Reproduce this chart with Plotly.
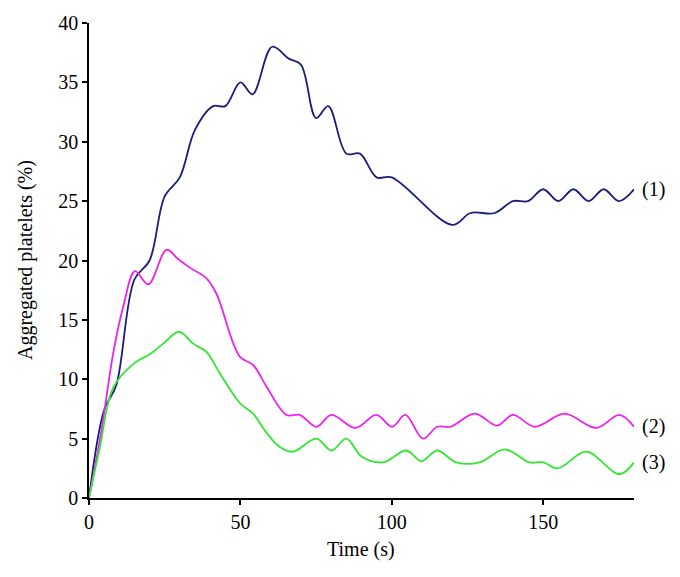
import plotly.graph_objects as go

# Series (1) - navy
t1 = [0, 5, 9, 15, 20, 25, 30, 35, 41, 45, 50, 54, 60.5, 66, 70, 75, 79, 85, 89.5, 95, 100, 120, 126, 134, 140, 145, 150, 155, 160, 165, 170, 175, 180]
y1 = [0, 7.4, 9.5, 18.4, 20, 25.4, 27, 31, 33, 33, 35, 34, 38, 37, 36.5, 32, 33, 29, 29, 27, 27, 23, 24, 24, 25, 25, 26, 25, 26, 25, 26, 25, 26]

# Series (2) - magenta
t2 = [0, 4, 8, 11.3, 15.2, 19.6, 25.6, 29.5, 33.3, 38.8, 42.1, 49.8, 54.2, 58.6, 65.2, 69.6, 75.1, 80.1, 88, 94.9, 100.1, 104.5, 110.3, 115, 119.4, 127.4, 134.8, 140, 147.2, 157.1, 167.5, 175.2, 180]
y2 = [0, 5.5, 12.2, 16.1, 19.1, 18.0, 20.9, 20.1, 19.4, 18.5, 17.2, 11.9, 11.2, 9.4, 7.0, 7.0, 6.0, 7.0, 5.9, 7.0, 6.0, 7.0, 5.0, 6.0, 6.0, 7.1, 6.1, 7.0, 6.0, 7.1, 5.9, 7.0, 6.0]

# Series (3) - green
t3 = [0, 3.6, 8, 15.2, 20.1, 24.5, 29.7, 34.4, 38.8, 43.2, 49.8, 54.2, 58.6, 63, 67.4, 75.1, 80.1, 85, 90, 97.1, 104.8, 109.8, 115, 121.3, 129, 137.3, 145.5, 150, 154.9, 164.2, 175.2, 180]
y3 = [0, 4.3, 9.3, 11.4, 12.1, 13.0, 14.0, 13.0, 12.3, 10.5, 8.0, 7.1, 5.5, 4.3, 3.9, 5.0, 4.0, 5.0, 3.5, 3.0, 4.0, 3.1, 4.0, 3.0, 3.0, 4.1, 3.0, 3.0, 2.5, 3.9, 2.0, 3.0]

labels = ["(1)", "(2)", "(3)"]
colors = ["#1c1c7c", "#ee22ee", "#33e633"]
x_ticks = [0, 50, 100, 150]
y_ticks = [0, 5, 10, 15, 20, 25, 30, 35, 40]
x_title = "Time (s)"
y_title = "Aggregated platelets (%)"

FONT = "Liberation Serif, Times New Roman, serif"

# page body has an 8px margin; target screen plot box: x 89..634, y 23..498
OFF = 8
L, T = 89 - OFF, 23 - OFF
W, H = 680, 577
PW, PH = 634 - 89, 498 - 23
R = W - L - PW
B = H - T - PH


def px_x(sx):
    return (sx - OFF - L) / PW


def px_y(sy):
    return (T + PH - (sy - OFF)) / PH


fig = go.Figure()
for t, y, c in zip([t1, t2, t3], [y1, y2, y3], colors):
    fig.add_trace(go.Scatter(x=t, y=y, mode="lines",
                             line=dict(color=c, width=1.8, shape="spline", smoothing=1.0),
                             showlegend=False, cliponaxis=False))

for lab, t, y in zip(labels, [t1, t2, t3], [y1, y2, y3]):
    fig.add_annotation(x=t[-1], y=y[-1], text=lab, xref="x", yref="y",
                       xanchor="left", yanchor="middle", xshift=6, showarrow=False,
                       font=dict(family=FONT, size=20, color="black"))

# axis titles
fig.add_annotation(x=px_x(361), y=px_y(549), xref="paper", yref="paper",
                   text=x_title, showarrow=False, xanchor="center", yanchor="middle",
                   font=dict(family=FONT, size=20, color="black"))
fig.add_annotation(x=px_x(26), y=px_y(260), xref="paper", yref="paper",
                   text=y_title, showarrow=False, xanchor="center", yanchor="middle", textangle=-90,
                   font=dict(family=FONT, size=20, color="black"))

axis_common = dict(showline=True, linecolor="black", linewidth=1.5, ticks="outside",
                   ticklen=5, tickwidth=1.5, tickcolor="black", showgrid=False, zeroline=False,
                   automargin=False,
                   tickfont=dict(family=FONT, size=20, color="black"))

fig.update_xaxes(range=[0, 180], tickvals=x_ticks, **axis_common)
fig.update_yaxes(range=[0, 40], tickvals=y_ticks, **axis_common)

fig.update_layout(width=W, height=H, plot_bgcolor="white", paper_bgcolor="white",
                  margin=dict(l=L, r=R, t=T, b=B))

fig.write_html("out.html")
